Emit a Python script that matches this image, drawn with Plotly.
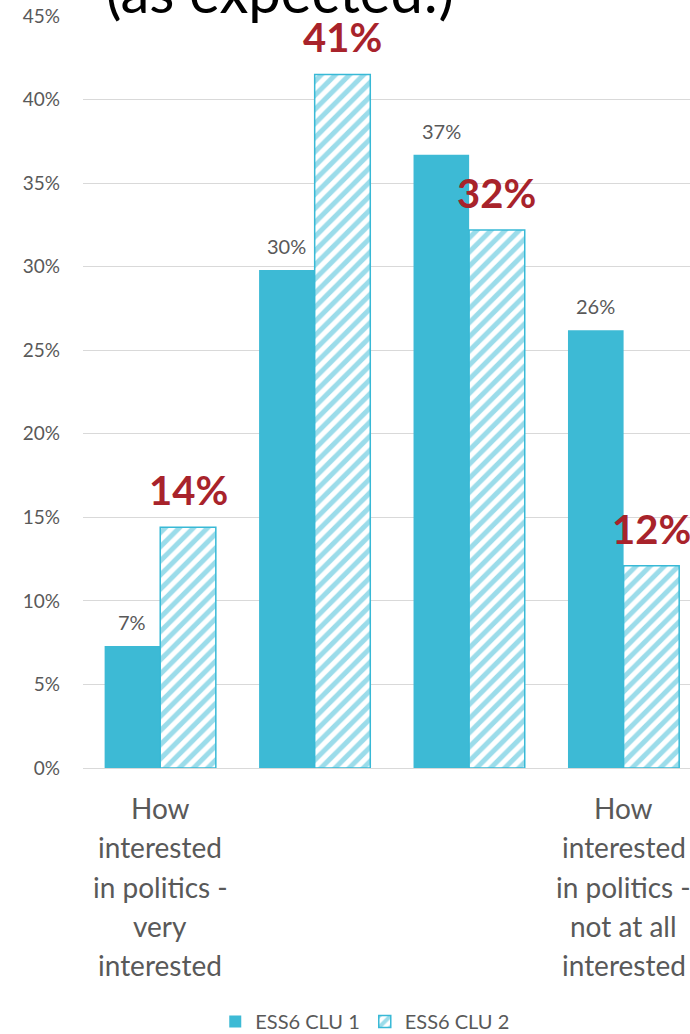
import plotly.graph_objects as go

# Share of respondents by interest in politics, per cluster
categories = ["very", "quite", "hardly", "not at all"]
tick_lines = [
    ["How", "interested", "in politics -", "very", "interested"],
    [],
    [],
    ["How", "interested", "in politics -", "not at all", "interested"],
]
clu1 = [7.3, 29.8, 36.7, 26.2]
clu2 = [14.4, 41.5, 32.2, 12.1]
clu1_labels = ["7%", "30%", "37%", "26%"]
clu2_labels = ["14%", "41%", "32%", "12%"]
series_names = ["ESS6 CLU 1", "ESS6 CLU 2"]

TEAL = "#3DBAD5"
HATCH = "#38B9D6"
RED = "#A8232B"
GREY = "#595959"
FONT = "Lato"

fig = go.Figure()
fig.add_trace(go.Bar(
    x=categories, y=clu1, name=series_names[0],
    marker=dict(color=TEAL, line=dict(width=0)),
    hoverinfo="skip",
))
fig.add_trace(go.Bar(
    x=categories, y=clu2, name=series_names[1],
    marker=dict(
        color="white",
        line=dict(color=HATCH, width=1.5),
        pattern=dict(shape="/", fgcolor=HATCH, bgcolor="white", size=10, solidity=0.5),
    ),
    hoverinfo="skip",
))

annotations = []
offset = 0.18
for i, (v, t) in enumerate(zip(clu1, clu1_labels)):
    annotations.append(dict(
        x=i - offset, y=v, xref="x", yref="y", text=t, showarrow=False,
        yanchor="middle", yshift=24, font=dict(family=FONT, size=20, color=GREY),
    ))
for i, (v, t) in enumerate(zip(clu2, clu2_labels)):
    annotations.append(dict(
        x=i + offset, y=v, xref="x", yref="y", text="<b>%s</b>" % t, showarrow=False,
        yanchor="middle", yshift=37,
        font=dict(family=FONT, size=40, color=RED, weight=900),
    ))

# Multi-line category captions under the axis
for i, lines in enumerate(tick_lines):
    for k, line in enumerate(lines):
        annotations.append(dict(
            x=i, y=0, xref="x", yref="y", text=line, showarrow=False,
            yanchor="middle", yshift=-40 - 39.3 * k,
            font=dict(family=FONT, size=28, color=GREY),
        ))

# Heading above the plot area
annotations.append(dict(
    x=0.325, y=1, xref="paper", yref="paper", text="(as expected!)", showarrow=False,
    xanchor="center", yanchor="bottom", yshift=-11,
    font=dict(family=FONT, size=58, color="black"),
))

fig.update_layout(
    width=690, height=1034,
    margin=dict(l=83, r=0, t=16, b=266, autoexpand=False),
    paper_bgcolor="white", plot_bgcolor="white",
    barmode="group", bargap=0.28, bargroupgap=0,
    font=dict(family=FONT, color=GREY),
    showlegend=True,
    legend=dict(
        orientation="h", x=0.465, xanchor="center",
        yref="container", y=0.012, yanchor="middle",
        font=dict(family=FONT, size=20, color=GREY), itemwidth=30,
    ),
    annotations=annotations,
)
fig.update_xaxes(
    type="category", range=[-0.5, 3.43], showticklabels=False,
    showgrid=False, showline=False, zeroline=False,
)
fig.update_yaxes(
    range=[0, 45], dtick=5, tick0=0, ticksuffix="%",
    showgrid=True, gridcolor="#D9D9D9", gridwidth=1,
    zeroline=True, zerolinecolor="#D9D9D9", zerolinewidth=1,
    tickfont=dict(family=FONT, size=19, color=GREY),
    ticklabelstandoff=22,
)

fig.write_html("out.html")
